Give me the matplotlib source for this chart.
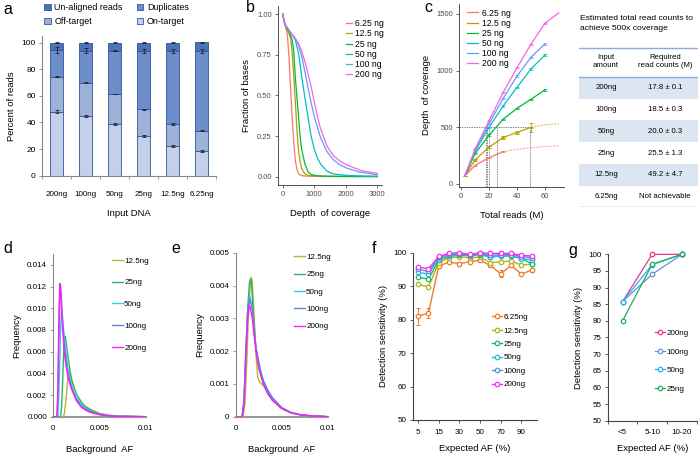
"""
Multi-panel figure: read composition, coverage, background AF and sensitivity
"""

import matplotlib
matplotlib.use('Agg')
import matplotlib.pyplot as plt
from matplotlib.patches import Patch, Rectangle
import numpy as np

plt.rcParams['font.family'] = ['Liberation Sans', 'DejaVu Sans']

W, H = 700, 459

# ---------------- panel a: read composition ----------------
input_dna = ['200ng', '100ng', '50ng', '25ng', '12.5ng', '6.25ng']
on_target = [48.1, 44.9, 38.9, 30.0, 22.0, 18.8]
off_target = [26.3, 25.1, 22.5, 19.9, 16.9, 15.0]
duplicates = [20.1, 24.0, 32.6, 44.0, 54.9, 60.0]
unaligned = [5.5, 6.0, 6.0, 6.1, 6.2, 6.4]
on_err = [1.0, 0.9, 0.5, 0.8, 0.8, 0.7]
off_err = [0.5, 0.5, 0.3, 0.5, 0.5, 0.5]
dup_err = [2.0, 1.8, 0.6, 1.5, 1.4, 1.6]
un_err = [0.2, 0.2, 0.2, 0.2, 0.2, 0.5]

# ---------------- panel b: cumulative coverage ----------------
b_labels = ['6.25 ng', '12.5 ng', '25 ng', '50 ng', '100 ng', '200 ng']
b_x_625 = [0, 50, 100, 150, 200, 250, 300, 350, 400, 450, 500, 600, 800, 1000, 1500, 3000]
b_y_625 = [1.0, 0.95, 0.92, 0.87, 0.73, 0.54, 0.36, 0.21, 0.10, 0.045, 0.018, 0.006, 0.003, 0.002, 0.001, 0.001]
b_x_125 = [0, 50, 100, 150, 200, 250, 300, 350, 400, 450, 500, 550, 600, 700, 800, 1000, 1500, 3000]
b_y_125 = [1.0, 0.95, 0.92, 0.90, 0.88, 0.85, 0.76, 0.62, 0.46, 0.29, 0.16, 0.095, 0.05, 0.018, 0.008, 0.004, 0.002, 0.001]
b_x_25 = [0, 50, 100, 200, 300, 350, 400, 450, 500, 550, 600, 700, 800, 900, 1000, 1200, 1500, 2000, 3000]
b_y_25 = [1.0, 0.95, 0.92, 0.89, 0.84, 0.77, 0.61, 0.49, 0.37, 0.25, 0.17, 0.08, 0.03, 0.014, 0.008, 0.004, 0.002, 0.001, 0.001]
b_x_50 = [0, 50, 100, 200, 300, 400, 500, 600, 700, 800, 900, 1000, 1100, 1200, 1400, 1600, 2000, 2500, 3000]
b_y_50 = [1.0, 0.95, 0.92, 0.90, 0.87, 0.84, 0.76, 0.62, 0.49, 0.37, 0.25, 0.17, 0.115, 0.078, 0.035, 0.017, 0.008, 0.004, 0.002]
b_x_100 = [0, 50, 100, 200, 300, 400, 500, 600, 700, 800, 900, 1000, 1200, 1400, 1600, 1800, 2000, 2400, 3000]
b_y_100 = [1.0, 0.95, 0.93, 0.90, 0.875, 0.85, 0.81, 0.74, 0.65, 0.55, 0.455, 0.37, 0.24, 0.155, 0.105, 0.075, 0.055, 0.03, 0.012]
b_x_200 = [0, 50, 100, 200, 300, 400, 500, 600, 700, 800, 900, 1000, 1100, 1200, 1400, 1600, 1800, 2000, 2500, 3000]
b_y_200 = [1.0, 0.95, 0.93, 0.90, 0.87, 0.85, 0.82, 0.77, 0.71, 0.635, 0.555, 0.46, 0.37, 0.295, 0.19, 0.13, 0.098, 0.075, 0.037, 0.02]
gg_colors = ['#F8766D', '#B79F00', '#00BA38', '#00BFC4', '#619CFF', '#F564E3']

# ---------------- panel c: depth vs total reads ----------------
c_reads = [2.5, 10, 20, 30, 40, 50, 60]
c_625 = [70, 165, 232, 285]
c_625_ext_x = [30, 40, 50, 60, 70]
c_625_ext_y = [285, 306, 321, 331, 337]
c_125 = [70, 215, 325, 410, 455, 500]
c_125_ext_x = [50, 60, 70]
c_125_ext_y = [500, 522, 532]
c_25 = [70, 270, 432, 571, 668, 747, 830]
c_50 = [70, 290, 500, 688, 853, 1015, 1138]
c_100 = [70, 300, 535, 753, 953, 1118, 1236]
c_200 = [70, 310, 560, 806, 1027, 1233, 1418]
c_200_ext_x = [60, 70]
c_200_ext_y = [1418, 1510]
c_err_125 = [0, 8, 10, 12, 15, 42]
target_depth = 500

# table
table_input = ['200ng', '100ng', '50ng', '25ng', '12.5ng', '6.25ng']
table_reads = ['17.8 \u00b1 0.1', '18.5 \u00b1 0.3', '20.0 \u00b1 0.3', '25.5 \u00b1 1.3',
               '49.2 \u00b1 4.7', 'Not achievable']
required_reads = [17.8, 18.5, 20.0, 25.5, 49.2]

# ---------------- panels d/e: background AF ----------------
de_labels = ['12.5ng', '25ng', '50ng', '100ng', '200ng']
de_colors = ['#b8b532', '#33b262', '#2ad0f2', '#5b87d6', '#ff1aff']
d_x_125 = [0, 0, 0.0011, 0.0012, 0.0014, 0.0016, 0.0017, 0.0018, 0.002, 0.0022, 0.0025, 0.003, 0.0033, 0.0036, 0.004, 0.005, 0.006, 0.007, 0.01]
d_y_125 = [1, 0, 0, 0.0003, 0.0018, 0.0038, 0.0042, 0.0040, 0.0031, 0.0022, 0.0015, 0.0011, 0.0010, 0.0009, 0.0007, 0.0003, 0.00013, 0.00005, 0]
d_x_25 = [0, 0, 0.0008, 0.0009, 0.001, 0.0011, 0.0012, 0.0013, 0.0014, 0.0016, 0.0018, 0.002, 0.0025, 0.003, 0.0035, 0.004, 0.005, 0.006, 0.007, 0.01]
d_y_25 = [1, 0, 0, 0.001, 0.003, 0.0055, 0.0071, 0.0074, 0.0068, 0.0055, 0.0043, 0.0034, 0.0021, 0.0014, 0.0009, 0.0006, 0.00028, 0.00012, 0.00005, 0]
d_x_50 = [0, 0, 0.0005, 0.0006, 0.0007, 0.0008, 0.0009, 0.001, 0.0012, 0.0014, 0.0016, 0.0018, 0.002, 0.0025, 0.003, 0.0035, 0.004, 0.005, 0.006, 0.007, 0.01]
d_y_50 = [1, 0, 0, 0.002, 0.005, 0.0085, 0.0096, 0.009, 0.0072, 0.0056, 0.0044, 0.0035, 0.0028, 0.0018, 0.0012, 0.0008, 0.0005, 0.00022, 0.0001, 0.00004, 0]
d_x_100 = [0, 0, 0.0004, 0.0005, 0.0006, 0.0007, 0.0008, 0.0009, 0.001, 0.0012, 0.0014, 0.0016, 0.0018, 0.002, 0.0025, 0.003, 0.0035, 0.004, 0.005, 0.006, 0.007, 0.01]
d_y_100 = [1, 0, 0, 0.002, 0.007, 0.011, 0.0121, 0.0105, 0.009, 0.0066, 0.005, 0.004, 0.0032, 0.0026, 0.0016, 0.001, 0.0007, 0.00045, 0.0002, 0.00009, 0.00003, 0]
d_x_200 = [0, 0, 0.0004, 0.0005, 0.0006, 0.0007, 0.0008, 0.0009, 0.001, 0.0012, 0.0014, 0.0016, 0.0018, 0.002, 0.0025, 0.003, 0.0035, 0.004, 0.005, 0.006, 0.007, 0.01]
d_y_200 = [1, 0, 0, 0.003, 0.009, 0.0123, 0.0115, 0.0098, 0.0082, 0.0058, 0.0046, 0.0036, 0.003, 0.0025, 0.0015, 0.0009, 0.0006, 0.0004, 0.00018, 0.00008, 0.00003, 0]

e_x_125 = [0, 0, 0.0008, 0.001, 0.0012, 0.0014, 0.0016, 0.0017, 0.0018, 0.002, 0.0022, 0.0024, 0.0026, 0.0028, 0.003, 0.0035, 0.004, 0.005, 0.006, 0.007, 0.008, 0.01]
e_y_125 = [1, 0, 0, 0.0004, 0.0016, 0.0032, 0.0041, 0.00425, 0.0041, 0.0031, 0.0019, 0.0012, 0.00105, 0.001, 0.00095, 0.0007, 0.0005, 0.00025, 0.00012, 0.00006, 0.00003, 0]
e_x_25 = [0, 0, 0.0007, 0.0009, 0.0011, 0.0013, 0.0015, 0.0016, 0.0017, 0.0018, 0.002, 0.0022, 0.0025, 0.003, 0.0035, 0.004, 0.005, 0.006, 0.007, 0.008, 0.01]
e_y_25 = [1, 0, 0, 0.0004, 0.0018, 0.0033, 0.0041, 0.0042, 0.0041, 0.0037, 0.0028, 0.0021, 0.0015, 0.001, 0.0007, 0.0005, 0.00025, 0.00012, 0.00006, 0.00003, 0]
e_x_50 = [0, 0, 0.0007, 0.0009, 0.0011, 0.0013, 0.0015, 0.0016, 0.0018, 0.002, 0.0022, 0.0025, 0.0028, 0.003, 0.0035, 0.004, 0.005, 0.006, 0.007, 0.008, 0.01]
e_y_50 = [1, 0, 0, 0.0005, 0.002, 0.0032, 0.0037, 0.0036, 0.0033, 0.0026, 0.0021, 0.0016, 0.0013, 0.0011, 0.0008, 0.00055, 0.00027, 0.00013, 0.00006, 0.00003, 0]
e_x_100 = [0, 0, 0.0007, 0.0009, 0.0011, 0.0013, 0.0015, 0.0016, 0.0018, 0.002, 0.0022, 0.0025, 0.0027, 0.0028, 0.003, 0.0035, 0.004, 0.005, 0.006, 0.007, 0.008, 0.01]
e_y_100 = [1, 0, 0, 0.0005, 0.002, 0.0032, 0.0036, 0.0035, 0.0033, 0.0026, 0.0021, 0.0017, 0.0014, 0.0013, 0.0011, 0.0008, 0.00058, 0.00028, 0.00013, 0.00006, 0.00003, 0]
e_x_200 = [0, 0, 0.0007, 0.0009, 0.0011, 0.0013, 0.0015, 0.0016, 0.0018, 0.002, 0.0022, 0.0025, 0.003, 0.0035, 0.004, 0.005, 0.006, 0.007, 0.008, 0.01]
e_y_200 = [1, 0, 0, 0.0004, 0.0018, 0.003, 0.0034, 0.0033, 0.003, 0.0025, 0.002, 0.0015, 0.001, 0.0007, 0.0005, 0.00025, 0.00012, 0.00006, 0.00003, 0]

# ---------------- panel f: sensitivity by expected AF ----------------
f_af = ['5', '10', '15', '20', '30', '40', '50', '60', '70', '80', '90', '100']
f_labels = ['6.25ng', '12.5ng', '25ng', '50ng', '100ng', '200ng']
f_colors = ['#ee7d2a', '#b4b319', '#22b35f', '#22bdf0', '#5f8fd9', '#f22ff2']
f_625 = [81.0, 82.0, 96.0, 97.2, 96.7, 97.3, 97.7, 96.2, 93.7, 96.2, 93.6, 94.8]
f_125 = [90.5, 89.8, 97.0, 98.5, 98.8, 98.5, 98.7, 97.0, 97.3, 97.5, 96.3, 96.6]
f_25 = [92.7, 92.1, 97.8, 98.9, 99.3, 99.1, 99.4, 98.7, 99.0, 99.0, 98.3, 96.7]
f_50 = [94.1, 93.6, 98.3, 99.3, 99.5, 99.3, 99.7, 98.8, 99.1, 99.2, 98.2, 97.9]
f_100 = [95.0, 94.4, 98.6, 99.6, 99.7, 99.4, 99.8, 99.2, 99.4, 99.4, 98.8, 98.5]
f_200 = [95.7, 95.2, 98.9, 99.8, 100.0, 99.5, 100.0, 99.8, 99.8, 99.8, 99.2, 99.0]
f_err_625 = [2.5, 1.4, 0.5, 0.4, 0.4, 0.4, 0.4, 0.4, 1.0, 0.5, 0.4, 0.5]

# ---------------- panel g: sensitivity by AF bin ----------------
g_bins = ['<5', '5-10', '10-20']
g_labels = ['200ng', '100ng', '50ng', '25ng']
g_colors = ['#e8378f', '#6a8fd8', '#20b4ef', '#1fae5a']
g_200 = [85.8, 100.0, 100.0]
g_100 = [85.8, 94.0, 100.0]
g_50 = [85.8, 96.9, 100.0]
g_25 = [80.0, 97.0, 100.0]


def px_axes(fig, left, top, right, bottom):
    """Axes from pixel box (origin top-left)"""
    return fig.add_axes([left / W, 1 - bottom / H, (right - left) / W, (bottom - top) / H])


def excel_axes(ax, color='#888888'):
    for s in ['top', 'right']:
        ax.spines[s].set_visible(False)
    for s in ['left', 'bottom']:
        ax.spines[s].set_color(color)
        ax.spines[s].set_linewidth(0.8)
    ax.tick_params(direction='out', length=2.5, width=0.6, colors=color,
                   labelcolor='black', labelsize=5.5, pad=2)


def gg_axes(ax):
    for s in ['top', 'right']:
        ax.spines[s].set_visible(False)
    for s in ['left', 'bottom']:
        ax.spines[s].set_color('#333333')
        ax.spines[s].set_linewidth(0.6)
    ax.tick_params(direction='out', length=2.5, width=0.5, colors='#333333',
                   labelcolor='#4d4d4d', labelsize=5.5, pad=2)


fig = plt.figure(figsize=(W / 100, H / 100), dpi=100)

# ---- a ----
ax = px_axes(fig, 42, 36, 216, 175.7)
xpos = np.arange(len(input_dna))
bar_cols = ['#c4d0e7', '#9eb2d9', '#6e8ecb', '#4b73b8']
stack = [on_target, off_target, duplicates, unaligned]
errs = [on_err, off_err, dup_err, un_err]
bottom = np.zeros(len(input_dna))
for vals, col, err in zip(stack, bar_cols, errs):
    ax.bar(xpos, vals, 0.45, bottom=bottom, color=col, edgecolor='#2f5597', linewidth=0.6)
    bottom = bottom + np.array(vals)
    ax.errorbar(xpos, bottom, yerr=err, fmt='none', ecolor='#222222', elinewidth=0.6,
                capsize=1.3, capthick=0.6)
ax.set_xlim(-0.5, 5.5)
ax.set_ylim(0, 105)
ax.set_yticks([0, 20, 40, 60, 80, 100])
ax.set_xticks(np.arange(-0.5, 6, 1))
ax.set_xticklabels([])
ax.set_xticks(xpos, minor=True)
ax.set_xticklabels(input_dna, minor=True)
excel_axes(ax)
ax.tick_params(axis='y', labelsize=6)
ax.tick_params(axis='x', which='minor', length=0, pad=11, labelsize=5.8)
ax.set_ylabel('Percent of reads', fontsize=6.8, labelpad=4)
ax.set_xlabel('Input DNA', fontsize=6.8, labelpad=8)
handles = [Patch(facecolor=c, edgecolor='#2f5597', linewidth=0.6) for c in bar_cols[::-1]]
names = ['Un-aligned reads', 'Duplicates', 'Off-target', 'On-target']
fig.legend([handles[0], handles[2], handles[1], handles[3]],
           [names[0], names[2], names[1], names[3]], ncol=2, loc='upper left',
           bbox_to_anchor=(44 / W, 1 - 3 / H), frameon=False, fontsize=6.4,
           handlelength=0.75, handleheight=0.75, handletextpad=0.4, columnspacing=1.6,
           labelspacing=0.55, borderpad=0, borderaxespad=0)

# ---- b ----
ax = px_axes(fig, 278, 5.9, 382, 184.8)
b_series = [(b_x_625, b_y_625), (b_x_125, b_y_125), (b_x_25, b_y_25),
            (b_x_50, b_y_50), (b_x_100, b_y_100), (b_x_200, b_y_200)]
for (xs, ys), col, lab in zip(b_series, gg_colors, b_labels):
    ax.plot(xs, ys, color=col, lw=0.9, label=lab)
ax.set_xlim(-150, 3150)
ax.set_ylim(-0.05, 1.05)
ax.set_xticks([0, 1000, 2000, 3000])
ax.set_yticks([0, 0.25, 0.5, 0.75, 1.0])
ax.set_yticklabels(['0.00', '0.25', '0.50', '0.75', '1.00'])
gg_axes(ax)
ax.set_xlabel('Depth  of coverage', fontsize=6.8, labelpad=8)
ax.set_ylabel('Fraction of bases', fontsize=6.8, labelpad=4)
ax.legend(loc='upper left', bbox_to_anchor=(346 / W, 1 - 19 / H), bbox_transform=fig.transFigure,
          frameon=False, fontsize=6.2, handlelength=0.7, handletextpad=0.3,
          labelspacing=0.15, borderpad=0, borderaxespad=0)

# ---- c ----
ax = px_axes(fig, 459.3, 4, 563.6, 186.7)
for xv in required_reads:
    ax.plot([xv, xv], [-24, target_depth], color='#555555', lw=0.5, ls=(0, (2, 1.5)))
ax.plot([-1.4, 50], [target_depth, target_depth], color='#555555', lw=0.5, ls=(0, (2, 1.5)))
c_series = [c_625, c_125, c_25, c_50, c_100, c_200]
for vals, col, lab in zip(c_series, gg_colors, b_labels):
    xs = c_reads[:len(vals)]
    ax.plot(xs, vals, color=col, lw=0.9, label=lab)
    ax.errorbar(xs[1:], vals[1:], yerr=[6] * (len(vals) - 1), fmt='none', ecolor=col,
                elinewidth=0.5, capsize=1.2, capthick=0.5)
ax.errorbar(c_reads[:len(c_125)], c_125, yerr=c_err_125, fmt='none', ecolor=gg_colors[1],
            elinewidth=0.6, capsize=1.5, capthick=0.6)
ax.plot(c_625_ext_x, c_625_ext_y, color=gg_colors[0], lw=0.8, ls=(0, (2, 1)), alpha=0.6)
ax.plot(c_125_ext_x, c_125_ext_y, color=gg_colors[1], lw=0.8, ls=(0, (2, 1)), alpha=0.6)
ax.plot(c_200_ext_x, c_200_ext_y, color=gg_colors[5], lw=0.9)
ax.set_xlim(-1.4, 73.4)
ax.set_ylim(-24, 1588)
ax.set_xticks([0, 20, 40, 60])
ax.set_yticks([0, 500, 1000, 1500])
gg_axes(ax)
ax.set_xlabel('Total reads (M)', fontsize=6.8, labelpad=8)
ax.set_ylabel('Depth  of coverage', fontsize=6.8, labelpad=4)
ax.legend(loc='upper left', bbox_to_anchor=(467 / W, 1 - 8.5 / H), bbox_transform=fig.transFigure,
          frameon=False, fontsize=6.2, handlelength=1.3, handletextpad=0.4,
          labelspacing=0.12, borderpad=0, borderaxespad=0)

# ---- table ----
fig.text(580 / W, 1 - 18 / H, 'Estimated total read counts to', fontsize=6.1,
         ha='left', va='center')
fig.text(580 / W, 1 - 29 / H, 'achieve 500x coverage', fontsize=6.1, ha='left', va='center')
tax = px_axes(fig, 579, 47.3, 698, 207.3)
tax.set_xlim(579, 698)
tax.set_ylim(207.3, 47.3)
tax.axis('off')
row_h = (207.3 - 77) / len(table_input)
for i, (inp, rd) in enumerate(zip(table_input, table_reads)):
    top = 77 + i * row_h
    if i % 2 == 0:
        tax.add_patch(Rectangle((579, top), 119, row_h, color='#dce6f2', lw=0))
    tax.text(606, top + row_h / 2, inp, fontsize=5.6, ha='center', va='center')
    tax.text(665, top + row_h / 2, rd, fontsize=5.6, ha='center', va='center')
tax.text(606, 62, 'Input\namount', fontsize=5.6, ha='center', va='center', linespacing=1.2)
tax.text(665, 62, 'Required\nread counts (M)', fontsize=5.6, ha='center', va='center',
         linespacing=1.2)
for yl in [47.8, 77, 206.8]:
    tax.plot([579, 698], [yl, yl], color='#8eaadb', lw=1)

# ---- d & e ----
d_series = [(d_x_125, d_y_125), (d_x_25, d_y_25), (d_x_50, d_y_50),
            (d_x_100, d_y_100), (d_x_200, d_y_200)]
e_series = [(e_x_125, e_y_125), (e_x_25, e_y_25), (e_x_50, e_y_50),
            (e_x_100, e_y_100), (e_x_200, e_y_200)]
for series, box, ymax, yt, ytl, leg_xy, lsp in [
        (d_series, (53.3, 254, 145.7, 416.7), 0.015, np.arange(0, 0.0141, 0.002),
         ['0.000', '0.002', '0.004', '0.006', '0.008', '0.010', '0.012', '0.014'],
         (112, 257), 1.75),
        (e_series, (235.7, 252.7, 327.7, 416.7), 0.005, np.arange(0, 0.00501, 0.001),
         ['0', '0.001', '0.002', '0.003', '0.004', '0.005'], (294, 253.5), 1.2)]:
    ax = px_axes(fig, *box)
    for (xs, ys), col, lab in zip(series, de_colors, de_labels):
        ax.plot(xs, ys, color=col, lw=1.0, label=lab)
    ax.set_xlim(0, 0.01)
    ax.set_ylim(0, ymax)
    ax.set_yticks(yt)
    ax.set_yticklabels(ytl)
    ax.set_xticks([0, 0.005, 0.01])
    ax.set_xticklabels(['0', '0.005', '0.01'])
    excel_axes(ax)
    ax.tick_params(labelsize=5.8)
    ax.spines['bottom'].set_color('#999999')
    ax.spines['bottom'].set_linewidth(1.5)
    ax.spines['bottom'].set_zorder(0)
    ax.tick_params(axis='x', length=0, pad=6)
    ax.set_xlabel('Background  AF', fontsize=6.8, labelpad=9)
    ax.set_ylabel('Frequency', fontsize=6.8, labelpad=4)
    ax.legend(loc='upper left', bbox_to_anchor=(leg_xy[0] / W, 1 - leg_xy[1] / H),
              bbox_transform=fig.transFigure, frameon=False, fontsize=5.8,
              handlelength=1.4, handletextpad=0.1, labelspacing=lsp,
              borderpad=0, borderaxespad=0)

# ---- f ----
ax = px_axes(fig, 413, 252.7, 536.8, 420)
fx = np.arange(len(f_af))
f_series = [f_625, f_125, f_25, f_50, f_100, f_200]
ax.errorbar(fx, f_625, yerr=f_err_625, fmt='none', ecolor=f_colors[0], elinewidth=0.7,
            capsize=1.5, capthick=0.7)
for vals, col, lab in zip(f_series, f_colors, f_labels):
    ax.plot(fx, vals, color=col, lw=1.0, marker='o', ms=3.2, mfc='white', mew=0.9,
            label=lab, clip_on=False)
ax.set_xlim(-0.5, 11.5)
ax.set_ylim(50, 100)
ax.set_yticks(np.arange(50, 101, 10))
ax.set_xticks(fx[::2])
ax.set_xticklabels(f_af[::2])
excel_axes(ax, color='#444444')
ax.tick_params(labelsize=5.8)
ax.tick_params(axis='x', pad=4)
ax.set_xlabel('Expected AF (%)', fontsize=6.8, labelpad=6)
ax.set_ylabel('Detection sensitivity (%)', fontsize=6.8, labelpad=4)
ax.legend(loc='upper left', bbox_to_anchor=(492 / W, 1 - 313.5 / H), bbox_transform=fig.transFigure,
          frameon=False, fontsize=5.8, handlelength=1.3, handletextpad=0.1,
          labelspacing=0.72, borderpad=0, borderaxespad=0)

# ---- g ----
ax = px_axes(fig, 607.7, 254.3, 696.7, 420.7)
gx = np.arange(len(g_bins))
for vals, col, lab in zip([g_200, g_100, g_50, g_25], g_colors, g_labels):
    ax.plot(gx, vals, color=col, lw=0.9, marker='o', ms=3.2, mfc='white', mew=0.9,
            label=lab, clip_on=False)
ax.set_xlim(-0.5, 2.5)
ax.set_ylim(50, 100)
ax.set_yticks(np.arange(50, 101, 5))
ax.set_xticks(np.arange(-0.5, 3, 1))
ax.set_xticklabels([])
ax.set_xticks(gx, minor=True)
ax.set_xticklabels(g_bins, minor=True)
excel_axes(ax, color='#444444')
ax.tick_params(labelsize=5.8)
ax.tick_params(axis='x', which='minor', length=0, pad=6, labelsize=5.8)
ax.set_xlabel('Expected AF (%)', fontsize=6.8, labelpad=6)
ax.set_ylabel('Detection sensitivity (%)', fontsize=6.8, labelpad=4)
ax.legend(loc='upper left', bbox_to_anchor=(655 / W, 1 - 329.5 / H), bbox_transform=fig.transFigure,
          frameon=False, fontsize=5.8, handlelength=1.3, handletextpad=0.1,
          labelspacing=1.35, borderpad=0, borderaxespad=0)

# panel letters
for letter, x, y in [('a', 3, 10), ('b', 246, 8), ('c', 424, 8), ('d', 3, 248),
                     ('e', 171, 248), ('f', 372, 248), ('g', 568, 250)]:
    fig.text(x / W, 1 - y / H, letter, fontsize=11.5, ha='left', va='center')

fig.savefig('out.png', dpi=100)
